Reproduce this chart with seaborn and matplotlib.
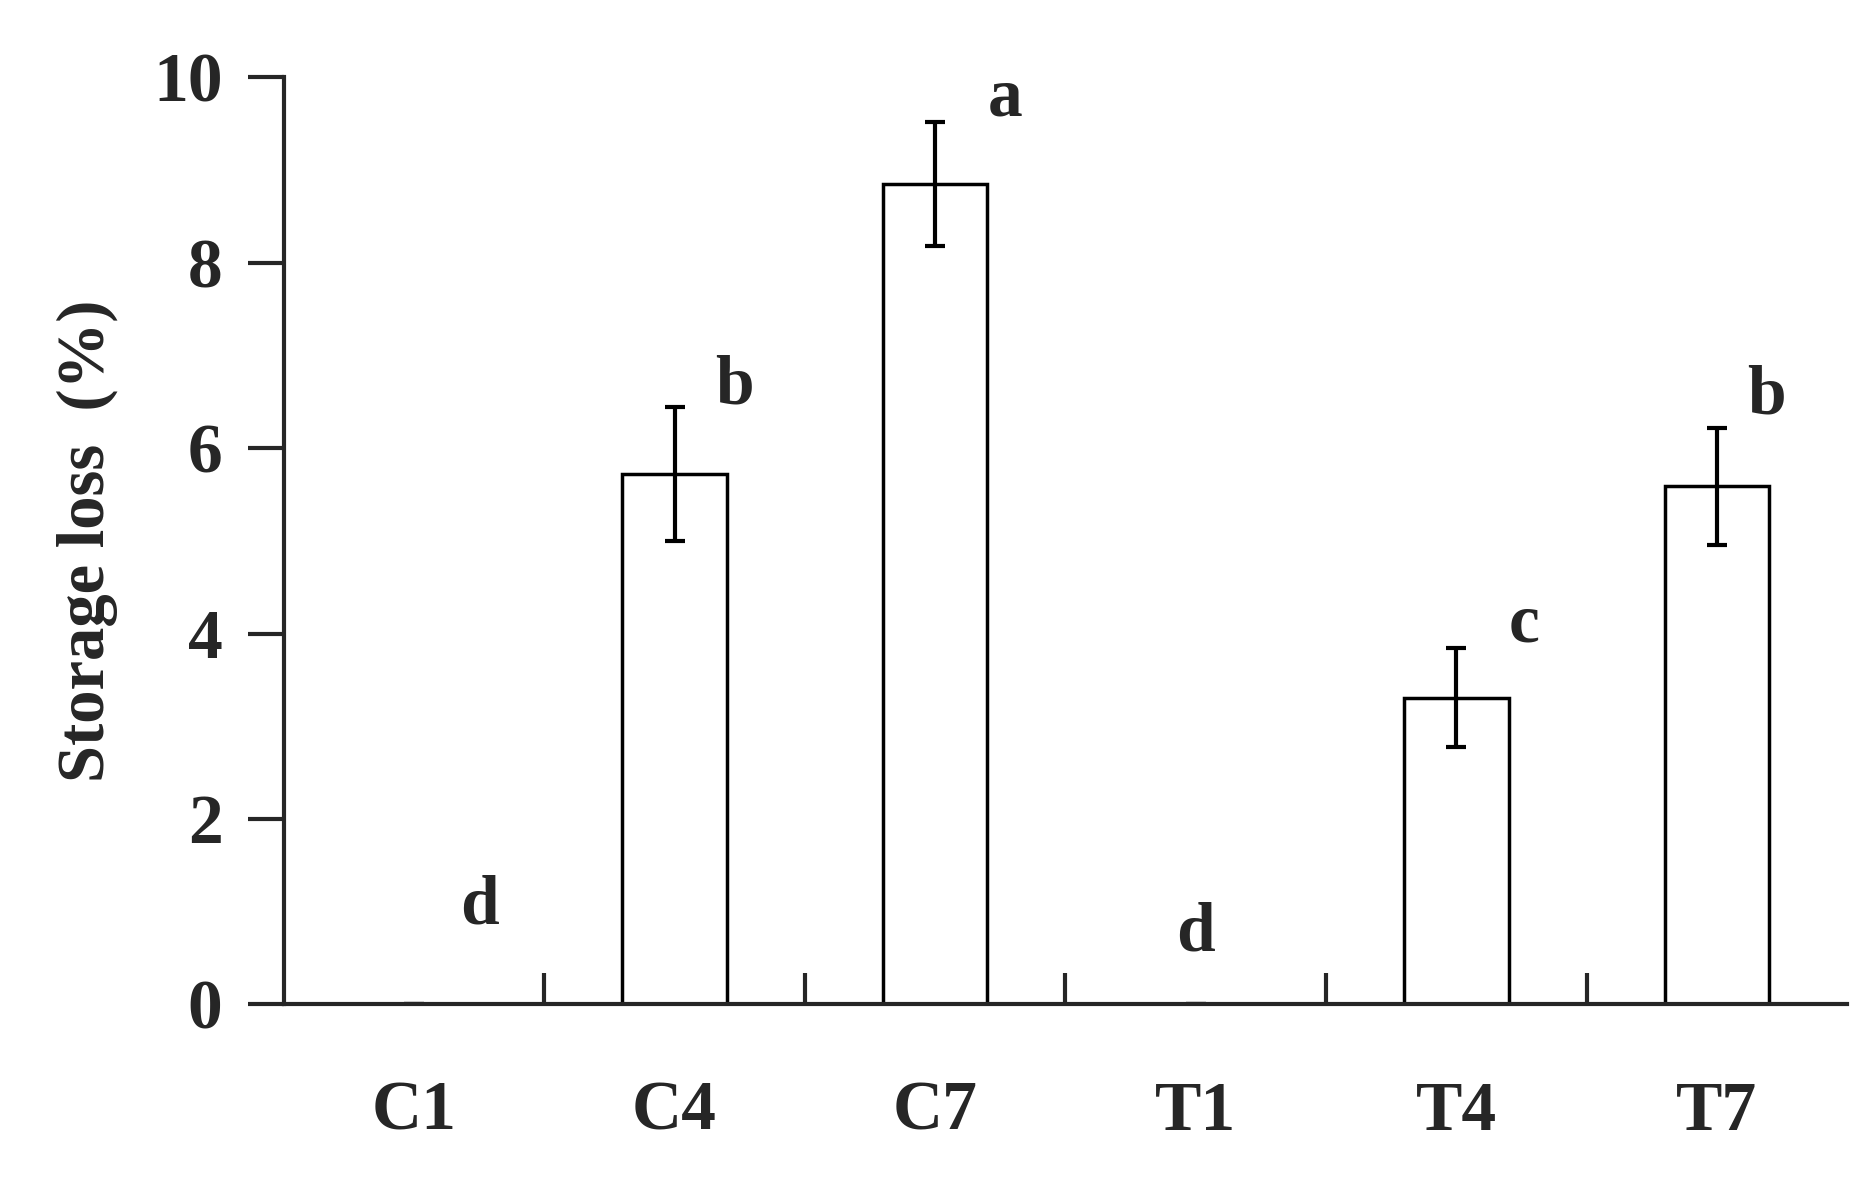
import matplotlib
matplotlib.use('Agg')
import matplotlib.pyplot as plt
import seaborn as sns
import pandas as pd

groups = ['C1', 'C4', 'C7', 'T1', 'T4', 'T7']
loss = [0.0, 5.72, 8.85, 0.0, 3.31, 5.59]
err = [0.0, 0.72, 0.67, 0.0, 0.53, 0.63]
letters = ['d', 'b', 'a', 'd', 'c', 'b']
letter_x = [0.25, 0.23, 0.27, 0.0, 0.26, 0.19]
letter_y = [1.06, 6.66, 9.77, 0.76, 4.1, 6.56]

sns.set_style('ticks')
plt.rcParams['font.family'] = ['Liberation Serif', 'DejaVu Serif']
plt.rcParams['font.weight'] = 'bold'

df = pd.DataFrame({'group': groups, 'loss': loss})

fig = plt.figure(figsize=(18.66, 11.9), dpi=100)
ax = fig.add_axes([0.152, 0.156, 0.838, 0.779])

sns.barplot(data=df, x='group', y='loss', color='white', edgecolor='black',
            linewidth=2.5, width=0.4, ax=ax)
ax.errorbar(range(len(groups)), loss, yerr=err, fmt='none', ecolor='black',
            elinewidth=3, capsize=7, capthick=3)

for i, (t, dx, y) in enumerate(zip(letters, letter_x, letter_y)):
    ax.text(i + dx, y, t, ha='center', va='center', fontsize=50, fontweight='bold')

ax.set_xlim(-0.5, 5.5)
ax.set_ylim(0, 10)
ax.set_yticks(range(0, 11, 2))
ax.set_xlabel('')
ax.set_ylabel('Storage loss  (%)', fontsize=48, fontweight='bold', labelpad=25)
sns.despine(ax=ax)
for s in ['left', 'bottom']:
    ax.spines[s].set_linewidth(3)

ax.tick_params(axis='y', direction='out', length=26, width=3, labelsize=50, pad=18)
ax.tick_params(axis='x', which='major', length=0, labelsize=50, pad=55)
ax.set_xticks([k + 0.5 for k in range(5)], minor=True)
ax.tick_params(axis='x', which='minor', direction='in', length=22, width=3)
for lbl in ax.get_xticklabels() + ax.get_yticklabels():
    lbl.set_fontweight('bold')

fig.savefig('out.png', dpi=100)
